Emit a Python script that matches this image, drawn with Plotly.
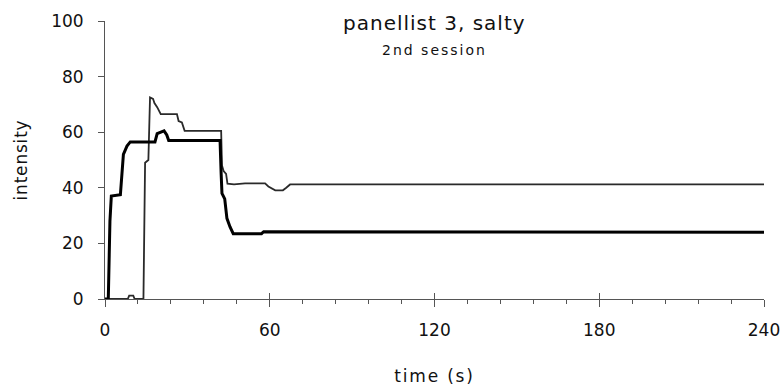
import plotly.graph_objects as go

# ---- data ----
thick_t = [0, 1.2, 1.8, 2.3, 5.6, 6.2, 6.7, 8.0, 9.2, 18.2, 19.0, 21.5, 22.5, 23.2,
           41.9, 42.3, 42.6, 43.6, 44.4, 45.5, 46.7, 57.0, 57.8, 240]
thick_v = [0, 0, 28, 37, 37.5, 45, 52, 55, 56.5, 56.5, 59.5, 60.5, 59, 57,
           57, 45, 38, 36, 29, 26, 23.5, 23.5, 24.2, 24.0]

thin_t = [0, 8.3, 8.8, 10.3, 10.8, 14.0, 14.6, 15.8, 16.4, 17.5, 18.0, 19.0, 20.3,
          26.2, 26.8, 28.0, 29.0, 42.3, 42.6, 43.2, 44.1, 44.6, 47.0, 51.0, 58.3,
          59.5, 62.0, 64.8, 66.0, 67.4, 240]
thin_v = [0, 0, 1.2, 1.2, 0, 0, 49, 50, 72.5, 72, 70.5, 69, 66.5,
          66.5, 64, 63.5, 60.5, 60.5, 48, 46, 45, 41.5, 41.2, 41.6, 41.6,
          40.5, 39.1, 39.1, 40, 41.2, 41.2]

x_ticks = [0, 60, 120, 180, 240]
y_ticks = [0, 20, 40, 60, 80, 100]

title_text = "panellist 3, salty"
subtitle_text = "2nd session"
x_title = "time (s)"
y_title = "intensity"

FONT = "DejaVu Sans, Liberation Sans, sans-serif"
AX = "#555555"
TXT = "#111111"


def spaced(s, px):
    return '<span style="letter-spacing:%spx">%s</span>' % (px, s)


fig = go.Figure()
fig.add_trace(go.Scatter(x=thin_t, y=thin_v, mode="lines",
                         line=dict(color="#2a2a2a", width=1.8), showlegend=False))
fig.add_trace(go.Scatter(x=thick_t, y=thick_v, mode="lines",
                         line=dict(color="#000000", width=3), showlegend=False))
# invisible trace on overlay axis for inward major tick marks
fig.add_trace(go.Scatter(x=[0, 240], y=[0, 0], xaxis="x2", mode="lines",
                         line=dict(width=0), hoverinfo="skip", showlegend=False))

fig.update_layout(
    width=784, height=386,
    margin=dict(l=105, r=20, t=21, b=87, autoexpand=False),
    paper_bgcolor="white", plot_bgcolor="white",
    font=dict(family=FONT, color=TXT, size=17),
    xaxis=dict(range=[0, 240], tickvals=x_ticks, ticktext=[str(v) for v in x_ticks],
               automargin=False,
               showgrid=False, zeroline=False, showline=True, linecolor=AX, linewidth=1,
               ticks="outside", ticklen=7, tickcolor=AX, tickwidth=1,
               minor=dict(dtick=12, ticks="outside", ticklen=4, tickcolor=AX, tickwidth=1),
               tickfont=dict(size=17), ticklabelstandoff=9,
               title=dict(text=spaced(x_title, 1.8), font=dict(size=17), standoff=31)),
    xaxis2=dict(range=[0, 240], overlaying="x", anchor="y", side="bottom",
                automargin=False,
                tickvals=x_ticks, showticklabels=False, ticks="inside", ticklen=6,
                tickcolor=AX, showgrid=False, zeroline=False, showline=False),
    yaxis=dict(range=[0, 100], tickvals=y_ticks, showgrid=False, zeroline=False,
               automargin=False,
               showline=True, linecolor=AX, linewidth=1,
               ticks="outside", ticklen=6, tickcolor=AX, tickwidth=1,
               tickfont=dict(size=17), ticklabelstandoff=11,
               title=dict(text=spaced(y_title, 0.8), font=dict(size=17), standoff=19)),
    annotations=[
        dict(text=spaced(title_text, 1.0), xref="paper", yref="paper", x=0.5, y=0.993,
             xanchor="center", yanchor="middle", showarrow=False,
             font=dict(size=20, family=FONT, color=TXT)),
        dict(text=spaced(subtitle_text, 2.0), xref="paper", yref="paper", x=0.5, y=0.896,
             xanchor="center", yanchor="middle", showarrow=False,
             font=dict(size=14, family=FONT, color=TXT)),
    ],
)

fig.write_html("out.html")
